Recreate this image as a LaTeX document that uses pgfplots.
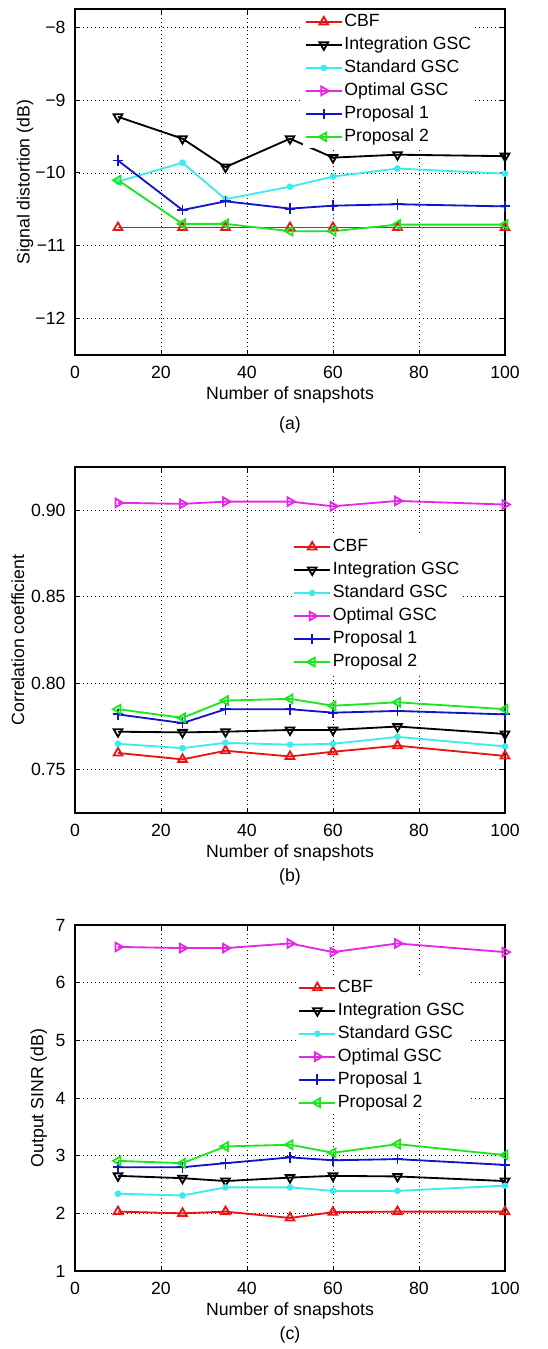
\documentclass[border=0pt]{standalone}
\usepackage{fontspec}
\setmainfont{Liberation Sans}
\usepackage{pgfplots}
\pgfplotsset{compat=1.18}

\definecolor{mred}{RGB}{235,20,20}
\definecolor{mcyan}{RGB}{60,235,235}
\definecolor{mmag}{RGB}{230,40,230}
\definecolor{mblue}{RGB}{20,20,200}
\definecolor{mgreen}{RGB}{30,230,30}

\pgfplotsset{
  panel/.style={
    scale only axis, width=258pt, height=207.6pt,
    xmin=0, xmax=100, xtick={0,20,...,100},
    grid=major,
    grid style={black, line width=0.45pt, dash pattern=on 0.8pt off 1.6pt},
    tick align=inside, major tick length=3pt,
    tick style={black, line width=0.6pt},
    axis line style={line width=1.1pt},
    /pgf/number format/assume math mode=true,
    xticklabel style={yshift=-3pt},
    yticklabel style={xshift=-2pt},
    xlabel={Number of snapshots},
    xlabel style={at={(axis description cs:0.5,0)}, anchor=center, yshift=-24pt},
    clip=false,
    legend cell align=left,
    legend style={draw=none, fill=white, inner sep=1pt, row sep=2pt,
      nodes={inner sep=1pt, text height=7.6pt, text depth=2.2pt},
      anchor=north west},
    legend image code/.code={\draw[mark repeat=2,mark phase=2,##1]
      plot coordinates {(0pt,0pt) (10.8pt,0pt) (21.6pt,0pt)};},
    every axis plot/.append style={line width=1.1pt, mark size=3pt},
  },
  cbf/.style={color=mred, mark=triangle, mark options={solid}},
  igsc/.style={color=black, mark=triangle, mark options={solid, rotate=180}},
  sgsc/.style={color=mcyan, mark=*, mark size=1.4pt, mark options={solid}},
  ogsc/.style={color=mmag, mark=triangle, mark options={solid, rotate=-90}},
  prop1/.style={color=mblue, mark=+, mark size=3.2pt, mark options={solid}},
  prop2/.style={color=mgreen, mark=triangle, mark options={solid, rotate=90}},
}

\begin{document}
\fontsize{10.6}{12.7}\selectfont
\begin{tikzpicture}
\useasboundingbox (0,0) rectangle (328.8pt,-809.4pt);

% (a) signal distortion
\begin{axis}[panel, at={(45pt,-5.4pt)}, anchor=north west,
  ymin=-12.5, ymax=-7.75, ytick={-12,-11,-10,-9,-8},
  yticklabels={−12,−11,−10,−9,−8},
  ylabel={Signal distortion (dB)},
  ylabel style={at={(axis description cs:-0.116,0.5)}, anchor=center},
  legend style={at={(rel axis cs:0.53,0.997)}}]
\addplot[cbf] coordinates {(10,-10.75) (25,-10.75) (35,-10.75) (50,-10.75) (60,-10.75) (75,-10.75) (100,-10.75)};
\addplot[igsc] coordinates {(10,-9.23) (25,-9.53) (35,-9.92) (50,-9.53) (60,-9.79) (75,-9.75) (100,-9.77)};
\addplot[sgsc] coordinates {(10,-10.12) (25,-9.86) (35,-10.36) (50,-10.19) (60,-10.05) (75,-9.94) (100,-10.01)};
\addlegendimage{ogsc}
\addplot[prop1] coordinates {(10,-9.83) (25,-10.51) (35,-10.39) (50,-10.49) (60,-10.45) (75,-10.43) (100,-10.46)};
\addplot[prop2] coordinates {(10,-10.10) (25,-10.70) (35,-10.70) (50,-10.80) (60,-10.80) (75,-10.71) (100,-10.71)};
\legend{CBF, Integration GSC, Standard GSC, Optimal GSC, Proposal 1, Proposal 2}
\node at (rel axis cs:0.5,0) [yshift=-42pt] {(a)};
\end{axis}

% (b) correlation coefficient
\begin{axis}[panel, at={(45pt,-280.2pt)}, anchor=north west,
  ymin=0.725, ymax=0.925, ytick={0.75,0.80,0.85,0.90},
  yticklabels={0.75,0.80,0.85,0.90},
  ylabel={Correlation coefficient},
  ylabel style={at={(axis description cs:-0.133,0.5)}, anchor=center},
  legend style={at={(rel axis cs:0.503,0.803)}}]
\addplot[cbf] coordinates {(10,0.7597) (25,0.756) (35,0.761) (50,0.7577) (60,0.7604) (75,0.7639) (100,0.758)};
\addplot[igsc] coordinates {(10,0.772) (25,0.7716) (35,0.772) (50,0.773) (60,0.773) (75,0.775) (100,0.7707)};
\addplot[sgsc] coordinates {(10,0.765) (25,0.7625) (35,0.7656) (50,0.7645) (60,0.765) (75,0.769) (100,0.7635)};
\addplot[ogsc] coordinates {(10,0.9043) (25,0.9037) (35,0.905) (50,0.905) (60,0.9023) (75,0.9054) (100,0.9033)};
\addplot[prop1] coordinates {(10,0.782) (25,0.777) (35,0.785) (50,0.785) (60,0.783) (75,0.784) (100,0.782)};
\addplot[prop2] coordinates {(10,0.785) (25,0.780) (35,0.790) (50,0.791) (60,0.787) (75,0.789) (100,0.785)};
\legend{CBF, Integration GSC, Standard GSC, Optimal GSC, Proposal 1, Proposal 2}
\node at (rel axis cs:0.5,0) [yshift=-38.4pt] {(b)};
\end{axis}

% (c) output SINR
\begin{axis}[panel, at={(45pt,-555pt)}, anchor=north west,
  ymin=1, ymax=7, ytick={1,2,...,7},
  ylabel={Output SINR (dB)},
  ylabel style={at={(axis description cs:-0.084,0.5)}, anchor=center},
  legend style={at={(rel axis cs:0.515,0.853)}}]
\addplot[cbf] coordinates {(10,2.03) (25,2.00) (35,2.03) (50,1.92) (60,2.02) (75,2.03) (100,2.03)};
\addplot[igsc] coordinates {(10,2.65) (25,2.61) (35,2.56) (50,2.62) (60,2.65) (75,2.64) (100,2.56)};
\addplot[sgsc] coordinates {(10,2.34) (25,2.31) (35,2.45) (50,2.45) (60,2.39) (75,2.39) (100,2.48)};
\addplot[ogsc] coordinates {(10,6.62) (25,6.60) (35,6.60) (50,6.68) (60,6.53) (75,6.68) (100,6.53)};
\addplot[prop1] coordinates {(10,2.80) (25,2.80) (35,2.87) (50,2.97) (60,2.92) (75,2.94) (100,2.84)};
\addplot[prop2] coordinates {(10,2.91) (25,2.87) (35,3.16) (50,3.19) (60,3.05) (75,3.20) (100,3.01)};
\legend{CBF, Integration GSC, Standard GSC, Optimal GSC, Proposal 1, Proposal 2}
\node at (rel axis cs:0.5,0) [yshift=-38.4pt] {(c)};
\end{axis}
\end{tikzpicture}
\end{document}
